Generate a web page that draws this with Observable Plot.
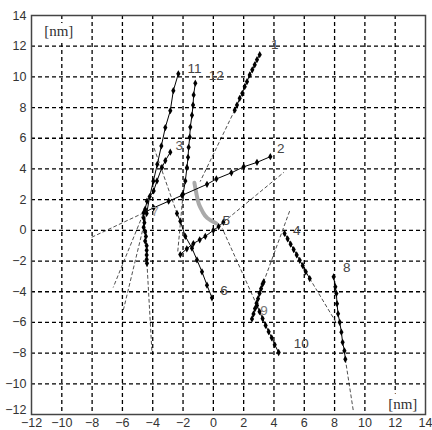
<!DOCTYPE html>
<html>
<head>
<meta charset="utf-8">
<script src="https://cdn.jsdelivr.net/npm/d3@7"></script>
<script src="https://cdn.jsdelivr.net/npm/@observablehq/plot@0.6"></script>
<style>
  html, body { margin: 0; padding: 0; background: #fff; }
</style>
</head>
<body>
<div id="chart"></div>
<script>
// Axis ticks
const ticks = [-12, -10, -8, -6, -4, -2, 0, 2, 4, 6, 8, 10, 12, 14];

// Trajectories (x, y in nm)
const traj1 = [[1.41,7.83],[1.56,8.16],[1.74,8.6],[1.91,8.93],[2.07,9.36],[2.22,9.69],[2.4,10.13],[2.57,10.46],[2.73,10.79],[2.88,11.12],[3.06,11.45]];
const traj2 = [[-4.6,1.14],[-3.94,1.47],[-2.95,1.9],[-2.07,2.28],[-0.42,3.0],[0.2,3.35],[1.19,3.75],[2.0,4.14],[2.88,4.43],[3.76,4.8]];
const traj3 = [[-4.5,1.38],[-4.38,1.9],[-3.94,2.57],[-3.72,3.22],[-3.39,4.1],[-3.17,4.54],[-2.84,5.09]];
const traj4 = [[4.7,-0.2],[4.9,-0.55],[5.1,-0.9],[5.3,-1.25],[5.5,-1.6],[5.7,-1.95],[5.9,-2.3],[6.1,-2.7],[6.36,-3.14]];
const traj5 = [[-2.18,-1.58],[-1.75,-1.2],[-1.32,-0.86],[-0.9,-0.62],[-0.53,-0.39],[0,0],[0.35,0.25],[0.66,0.53]];
const traj6 = [[-2.4,1.1],[-2.18,0.6],[-1.85,-0.39],[-1.41,-1.16],[-1.08,-1.93],[-0.75,-2.7],[-0.42,-3.57],[-0.09,-4.4]];
const traj7 = [[-4.6,0.8],[-4.55,0.5],[-4.6,0.2],[-4.5,-0.1],[-4.45,-0.4],[-4.5,-0.7],[-4.4,-1.0],[-4.4,-1.3],[-4.4,-1.6],[-4.4,-1.9],[-4.38,-2.15]];
const traj8 = [[7.94,-3.03],[8.05,-3.68],[8.12,-4.12],[8.16,-4.78],[8.23,-5.44],[8.34,-5.99],[8.45,-6.64],[8.53,-7.3],[8.65,-7.85],[8.71,-8.4]];
const traj9 = [[2.55,-5.77],[2.65,-5.45],[2.75,-5.1],[2.85,-4.75],[2.95,-4.45],[3.05,-4.1],[3.15,-3.8],[3.25,-3.5],[3.32,-3.36]];
const traj10 = [[2.88,-4.89],[3.05,-5.3],[3.25,-5.75],[3.45,-6.2],[3.65,-6.6],[3.85,-7.0],[4.05,-7.45],[4.31,-7.96]];
const traj11 = [[-4.4,1.1],[-4.2,2.2],[-3.96,3.2],[-3.7,4.3],[-3.43,5.5],[-3.17,6.7],[-2.84,7.8],[-2.64,9.1],[-2.31,10.2]];
const traj12 = [[-2.0,2.35],[-1.85,3.22],[-1.74,4.1],[-1.67,4.76],[-1.63,5.41],[-1.56,6.07],[-1.52,6.73],[-1.41,7.5],[-1.34,8.16],[-1.3,8.82],[-1.19,9.59]];

// Dashed fitted extensions
const ext1 = [[1.41,7.83],[-0.86,3.2]];
const ext2 = [[-4.6,1.14],[-8.05,-0.46]];
const ext3 = [[-4.5,1.38],[-6.6,-3.7]];
const ext4 = [[6.36,-3.14],[8.1,-6.0]];
const ext5 = [[0.66,0.53],[4.64,3.77]];
const ext6 = [[-2.4,1.1],[-4.03,5.7]];
const ext7 = [[-4.38,-2.15],[-4.05,-7.96]];
const ext8 = [[8.71,-8.4],[9.24,-11.78]];
const ext9 = [[3.32,-3.36],[5.08,1.38]];
const ext10 = [[2.88,-4.89],[0.6,0.1]];
const ext11 = [[-4.4,1.1],[-5.94,-5.2]];
const ext12 = [[-2.0,2.35],[-2.35,-1.4]];

// Gray arc
const arc = [[-1.25,3.1],[-1.1,2.3],[-0.95,1.7],[-0.7,1.2],[-0.4,0.8],[0.2,0.45]];

// Trajectory labels
const labelText = ["1","2","3","4","5","6","7","8","9","10","11","12"];
const labelX = [4.0, 4.4, -2.3, 5.45, 0.8, 0.65, -3.9, 8.75, 3.3, 5.5, -1.5, -0.1];
const labelY = [12.1, 5.3, 5.5, -0.05, 0.6, -3.95, 1.2, -2.45, -5.25, -7.4, 10.55, 10.05];
const labelColor = ["#444","#444","#555","#444","#444","#444","#999","#444","#777","#444","#444","#444"];

const unitLabels = [{t:"[nm]", x:-10.2, y:13.0}, {t:"[nm]", x:12.5, y:-11.3}];

const trajs = [traj1,traj2,traj3,traj4,traj5,traj6,traj7,traj8,traj9,traj10,traj11,traj12];
const exts = [ext1,ext2,ext3,ext4,ext5,ext6,ext7,ext8,ext9,ext10,ext11,ext12];

const trajPts = trajs.flatMap((t, i) => t.map(([x, y]) => ({id: i + 1, x, y})));
const extPts = exts.flatMap((t, i) => t.map(([x, y]) => ({id: i + 1, x, y})));
const arcPts = arc.map(([x, y]) => ({x, y}));
const labels = labelText.map((t, i) => ({t, x: labelX[i], y: labelY[i], c: labelColor[i]}));
const grid = ticks.slice(1, -1);

const chart = Plot.plot({
  width: 432,
  height: 430,
  marginLeft: 31,
  marginRight: 7,
  marginTop: 15,
  marginBottom: 16,
  style: {fontFamily: "'Liberation Sans', Arial, sans-serif", fontSize: "12.5px", color: "#333", background: "#fff"},
  x: {domain: [-12, 14], label: null},
  y: {domain: [-12, 14], label: null},
  marks: [
    Plot.axisX(ticks, {tickSize: 0, tickPadding: 4, label: null}),
    Plot.axisY(ticks.slice(1), {tickSize: 0, tickPadding: 5, label: null}),
    Plot.axisY(ticks.slice(0, 1), {tickSize: 0, tickPadding: 5, dy: -5, label: null}),
    Plot.ruleX(grid, {stroke: "#000", strokeWidth: 1.3, strokeDasharray: "4,3"}),
    Plot.ruleY(grid, {stroke: "#000", strokeWidth: 1.3, strokeDasharray: "4,3"}),
    Plot.line(extPts, {x: "x", y: "y", z: "id", stroke: "#222", strokeWidth: 0.8, strokeDasharray: "3,3"}),
    Plot.line(arcPts, {x: "x", y: "y", stroke: "#aaa", strokeWidth: 4, curve: "natural"}),
    Plot.line(trajPts, {x: "x", y: "y", z: "id", stroke: "#000", strokeWidth: 1}),
    Plot.dot(trajPts, {x: "x", y: "y", r: 2.2, fill: "#000", symbol: "diamond"}),
    Plot.text(labels, {x: "x", y: "y", text: "t", fill: "c", fontSize: 13.5, textAnchor: "start", dx: -3}),
    Plot.text(unitLabels, {x: "x", y: "y", text: "t", fontFamily: "'Liberation Serif', 'Times New Roman', serif", fontSize: 15, fill: "#333", stroke: "#fff", strokeWidth: 12, strokeLinejoin: "round"}),
    Plot.frame({stroke: "#444", strokeWidth: 1.5})
  ]
});
document.getElementById("chart").appendChild(chart);
</script>
</body>
</html>
